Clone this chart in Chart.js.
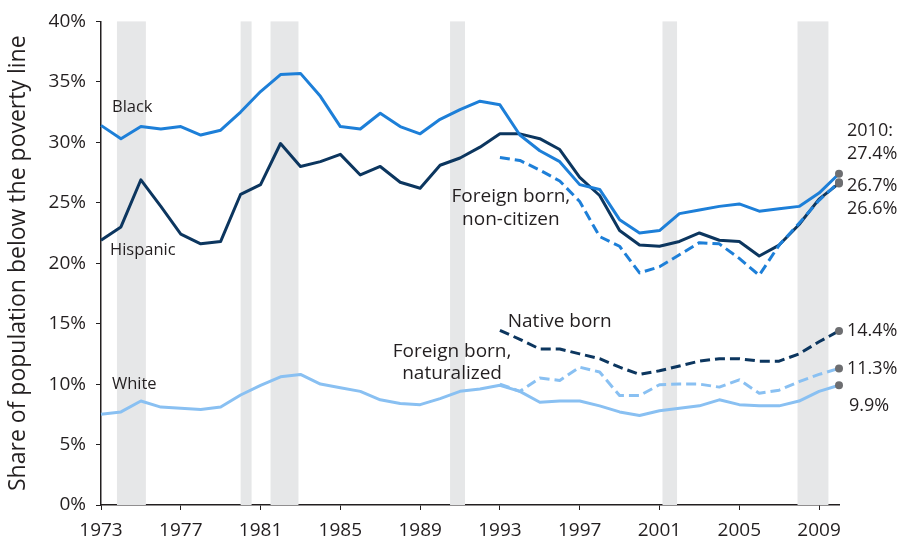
<!DOCTYPE html>
<html>
<head>
<meta charset="utf-8">
<script src="https://cdn.jsdelivr.net/npm/chart.js@4"></script>
<style>
  body { margin: 0; background: #fff; }
  #wrap { width: 902px; height: 539px; }
</style>
</head>
<body>
<div id="wrap"><canvas id="mycanvas" width="902" height="539"></canvas></div>
<script>
// years and series (share below poverty line, %)
var years = [1973, 1974, 1975, 1976, 1977, 1978, 1979, 1980, 1981, 1982, 1983, 1984, 1985,
             1986, 1987, 1988, 1989, 1990, 1991, 1992, 1993, 1994, 1995, 1996, 1997, 1998,
             1999, 2000, 2001, 2002, 2003, 2004, 2005, 2006, 2007, 2008, 2009, 2010];
var black = [31.4, 30.3, 31.3, 31.1, 31.3, 30.6, 31.0, 32.5, 34.2, 35.6, 35.7, 33.8, 31.3,
             31.1, 32.4, 31.3, 30.7, 31.9, 32.7, 33.4, 33.1, 30.6, 29.3, 28.4, 26.5, 26.1,
             23.6, 22.5, 22.7, 24.1, 24.4, 24.7, 24.9, 24.3, 24.5, 24.7, 25.8, 27.4];
var hispanic = [21.9, 23.0, 26.9, 24.7, 22.4, 21.6, 21.8, 25.7, 26.5, 29.9, 28.0, 28.4, 29.0,
                27.3, 28.0, 26.7, 26.2, 28.1, 28.7, 29.6, 30.7, 30.7, 30.3, 29.4, 27.1, 25.6,
                22.7, 21.5, 21.4, 21.8, 22.5, 21.9, 21.8, 20.6, 21.5, 23.2, 25.3, 26.6];
var white = [7.5, 7.7, 8.6, 8.1, 8.0, 7.9, 8.1, 9.1, 9.9, 10.6, 10.8, 10.0, 9.7,
             9.4, 8.7, 8.4, 8.3, 8.8, 9.4, 9.6, 9.9, 9.4, 8.5, 8.6, 8.6, 8.2,
             7.7, 7.4, 7.8, 8.0, 8.2, 8.7, 8.3, 8.2, 8.2, 8.6, 9.4, 9.9];

// nativity series start in 1993
var years93 = [1993, 1994, 1995, 1996, 1997, 1998, 1999, 2000, 2001, 2002, 2003, 2004, 2005,
               2006, 2007, 2008, 2009, 2010];
var nonCitizen = [28.75, 28.5, 27.7, 26.8, 25.1, 22.2, 21.4, 19.2, 19.7, 20.7, 21.7, 21.6, 20.4,
                  19.0, 21.5, 23.3, 25.2, 26.7];
var nativeBorn = [14.45, 13.7, 12.9, 12.9, 12.5, 12.1, 11.4, 10.8, 11.1, 11.5, 11.9, 12.1, 12.1,
                  11.9, 11.9, 12.5, 13.5, 14.4];
var naturalized = [10.0, 9.4, 10.5, 10.3, 11.4, 11.0, 9.05, 9.05, 9.95, 10.0, 10.0, 9.75, 10.35,
                   9.25, 9.5, 10.2, 10.8, 11.3];

// recessions (shaded)
var recStart = [1973.8, 1980.0, 1981.5, 1990.5, 2001.15, 2007.92];
var recEnd = [1975.25, 1980.55, 1982.9, 1991.25, 2001.88, 2009.47];

var xTicks = [1973, 1977, 1981, 1985, 1989, 1993, 1997, 2001, 2005, 2009];

var MID = '#1d7fd8', NAVY = '#0c365f', LIGHT = '#89c0f2';
var FONT = '"Open Sans", sans-serif';

function pts(xs, vs) {
    return xs.map(function(x, i) { return { x: x, y: vs[i] }; });
}

function line(label, xs, vs, color, dashed) {
    var last = xs.length - 1;
    return {
        label: label,
        data: pts(xs, vs),
        borderColor: color,
        borderWidth: 3,
        borderDash: dashed ? [10, 5] : [],
        tension: 0,
        fill: false,
        clip: false,
        borderJoinStyle: 'round',
        pointRadius: function(c) { return c.dataIndex === last ? 4 : 0; },
        pointBackgroundColor: '#6d6e71',
        pointBorderWidth: 0,
        pointHoverRadius: 0
    };
}

// series labels, placed in data units
var seriesLabels = [
    { lines: ['Black'], x: 1973.55, y: 32.9, align: 'left', size: 16.5, gap: 0 },
    { lines: ['Hispanic'], x: 1973.45, y: 21.05, align: 'left', size: 16.5, gap: 0 },
    { lines: ['White'], x: 1973.55, y: 9.95, align: 'left', size: 16.5, gap: 0 },
    { lines: ['Foreign born,', 'non-citizen'], x: 1993.55, y: 25.5, align: 'center', size: 19, gap: 23 },
    { lines: ['Foreign born,', 'naturalized'], x: 1990.6, y: 12.7, align: 'center', size: 19, gap: 22 },
    { lines: ['Native born'], x: 1996.0, y: 15.2, align: 'center', size: 19, gap: 0 }
];

// 2010 end values, with vertical nudge in pixels
var endLabels = [
    { text: '2010:', value: 27.4, dy: -43 },
    { text: '27.4%', value: 27.4, dy: -20 },
    { text: '26.7%', value: 26.7, dy: 4 },
    { text: '26.6%', value: 26.6, dy: 25 },
    { text: '14.4%', value: 14.4, dy: 0 },
    { text: '11.3%', value: 11.3, dy: 0 },
    { text: '9.9%', value: 9.9, dy: 21, dx: 2 }
];

var bands = {
    id: 'bands',
    beforeDatasetsDraw: function(chart) {
        var c = chart.ctx, xs = chart.scales.x, a = chart.chartArea;
        c.save();
        c.fillStyle = '#e6e7e8';
        for (var i = 0; i < recStart.length; i++) {
            var x0 = xs.getPixelForValue(recStart[i]);
            var x1 = xs.getPixelForValue(recEnd[i]);
            c.fillRect(x0, a.top, x1 - x0, a.bottom - a.top);
        }
        c.restore();
    }
};

var labels = {
    id: 'labels',
    afterDraw: function(chart) {
        var c = chart.ctx, xs = chart.scales.x, ys = chart.scales.y;
        c.save();
        c.fillStyle = '#231f20';
        c.textBaseline = 'middle';
        seriesLabels.forEach(function(l) {
            c.font = l.size + 'px ' + FONT;
            c.textAlign = l.align;
            var px = xs.getPixelForValue(l.x), py = ys.getPixelForValue(l.y);
            l.lines.forEach(function(t, k) { c.fillText(t, px, py + k * l.gap); });
        });
        c.font = '18px ' + FONT;
        c.textAlign = 'left';
        var ex = xs.getPixelForValue(2010);
        endLabels.forEach(function(l) {
            c.fillText(l.text, ex + 8 + (l.dx || 0), ys.getPixelForValue(l.value) + l.dy);
        });
        c.restore();
    }
};

var chart1 = new Chart(document.getElementById('mycanvas'), {
    type: 'line',
    data: {
        datasets: [
            line('White', years, white, LIGHT, false),
            line('Foreign born, naturalized', years93, naturalized, LIGHT, true),
            line('Native born', years93, nativeBorn, NAVY, true),
            line('Foreign born, non-citizen', years93, nonCitizen, MID, true),
            line('Black', years, black, MID, false),
            line('Hispanic', years, hispanic, NAVY, false)
        ]
    },
    options: {
        responsive: false,
        animation: false,
        layout: { padding: { top: 16, right: 63, bottom: 0, left: 0 } },
        plugins: { legend: { display: false }, tooltip: { enabled: false } },
        scales: {
            x: {
                type: 'linear',
                min: 1973,
                max: 2010,
                afterBuildTicks: function(s) { s.ticks = xTicks.map(function(v) { return { value: v }; }); },
                afterFit: function(s) { s.height = 34; },
                grid: { drawOnChartArea: false, color: '#231f20', tickLength: 5 },
                border: { color: '#231f20', width: 1.5 },
                ticks: {
                    color: '#231f20',
                    padding: 9,
                    maxRotation: 0,
                    font: { family: FONT, size: 19 },
                    callback: function(v) { return String(v); }
                }
            },
            y: {
                min: 0,
                max: 40,
                afterFit: function(s) { s.width = 101; },
                grid: { drawOnChartArea: false, color: '#231f20', tickLength: 5 },
                border: { color: '#231f20', width: 1.5 },
                ticks: {
                    stepSize: 5,
                    color: '#231f20',
                    padding: 10,
                    font: { family: FONT, size: 19 },
                    callback: function(v) { return v + '%'; }
                },
                title: {
                    display: true,
                    text: 'Share of population below the poverty line',
                    color: '#231f20',
                    font: { family: FONT, size: 23 },
                    padding: { top: 5, bottom: 0 }
                }
            }
        }
    },
    plugins: [bands, labels]
});
</script>
</body>
</html>
